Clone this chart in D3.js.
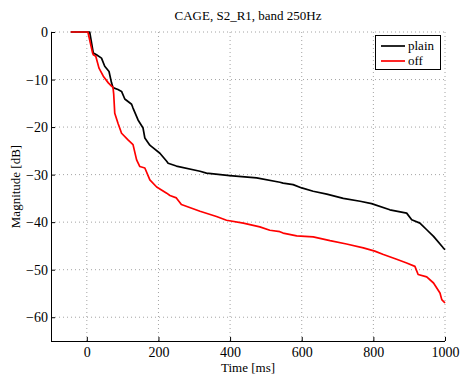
<!DOCTYPE html>
<html><head><meta charset="utf-8">
<script src="https://cdn.jsdelivr.net/npm/d3@7"></script>
<style>body{margin:0;background:#fff}text{font-family:"Liberation Serif","Times New Roman",serif;fill:#000}</style>
</head><body><svg id="c" width="460" height="378"></svg>
<script>
const title = "CAGE, S2_R1, band 250Hz";
const xTicks = [0, 200, 400, 600, 800, 1000];
const yTicks = [0, -10, -20, -30, -40, -50, -60];
const seriesNames = ["plain", "off"];
const seriesColors = ["#000000", "#ff0000"];
const plainT = [-45, 8, 18, 27, 41, 50, 62, 69, 73, 87, 97, 106, 125, 129, 143, 157, 162, 176, 181, 204, 223, 227, 250, 316, 334, 399, 474, 539, 548, 576, 600, 632, 670, 716, 763, 795, 846, 893, 907, 930, 949, 968, 995, 1000];
const plainV = [0, 0, -4.4, -4.8, -5.5, -7.2, -8.3, -10.7, -11.7, -12.1, -12.5, -14.1, -15.2, -16, -18.5, -20.2, -22.3, -23.8, -24.1, -25.5, -27.2, -27.6, -28.2, -29.3, -29.7, -30.2, -30.7, -31.6, -31.8, -32.1, -32.8, -33.5, -34.1, -35, -35.6, -36.1, -37.4, -38.1, -39.5, -40.2, -41.6, -43, -45.4, -45.8];
const offT = [-45, 3, 16, 18, 25, 34, 46, 60, 69, 73, 75, 78, 87, 97, 115, 129, 139, 148, 162, 176, 195, 223, 232, 250, 264, 316, 362, 390, 437, 483, 511, 539, 548, 586, 632, 679, 725, 772, 804, 828, 865, 893, 916, 925, 949, 968, 986, 991, 1000];
const offV = [0, 0, -4.4, -4.8, -5.1, -7.6, -9.3, -10.7, -11.4, -11.6, -13, -17.1, -19.2, -21.3, -22.7, -23.7, -26.9, -28.3, -28.6, -31.1, -32.6, -33.9, -34.4, -34.9, -36.3, -37.7, -38.8, -39.6, -40.2, -41, -41.7, -42, -42.3, -42.9, -43.1, -43.9, -44.6, -45.4, -46.1, -46.8, -47.8, -48.6, -49.3, -51, -51.5, -52.8, -54.9, -56.3, -57];

const svg = d3.select("#c");
const L = 51, R = 445, T = 32, B = 341;
const x = d3.scaleLinear().domain([-100, 1000]).range([L, R]);
const y = d3.scaleLinear().domain([-65, 0]).range([B, T]);

// grid
const g = svg.append("g");
g.selectAll(".gx").data(xTicks).enter().append("line")
  .attr("x1", d => x(d)).attr("x2", d => x(d)).attr("y1", T).attr("y2", B)
  .attr("stroke", "#8c8c8c").attr("stroke-width", 0.8).attr("stroke-dasharray", "1,3");
g.selectAll(".gy").data(yTicks).enter().append("line")
  .attr("x1", L).attr("x2", R).attr("y1", d => y(d)).attr("y2", d => y(d))
  .attr("stroke", "#8c8c8c").attr("stroke-width", 0.8).attr("stroke-dasharray", "1,3");

// axes
const fmt = d => (d < 0 ? "\u2212" + Math.abs(d) : String(d));
const xAxis = svg.append("g").attr("transform", `translate(0,${B})`)
  .call(d3.axisBottom(x).tickValues(xTicks).tickSize(-4).tickPadding(6).tickFormat(fmt));
const yAxis = svg.append("g").attr("transform", `translate(${L},0)`)
  .call(d3.axisLeft(y).tickValues(yTicks).tickSize(-4).tickPadding(3).tickFormat(fmt));
[xAxis, yAxis].forEach(a => {
  a.select(".domain").attr("stroke", "#000").attr("stroke-width", 1);
  a.selectAll(".tick line").attr("stroke", "#000");
  a.selectAll("text").attr("font-family", "Liberation Serif").attr("font-size", 14).attr("fill", "#000");
});
xAxis.select(".domain").attr("d", `M${L},0.5H${R}`);
yAxis.select(".domain").attr("d", `M0.5,${B}V${T}`);

// lines
const line = d3.line().x(d => x(d[0])).y(d => y(d[1]));
const data = [d3.zip(plainT, plainV), d3.zip(offT, offV)];
svg.selectAll(".ln").data(data).enter().append("path")
  .attr("d", line).attr("fill", "none")
  .attr("stroke", (d, i) => seriesColors[i]).attr("stroke-width", 1.7)
  .attr("stroke-linejoin", "round");

// title and labels
svg.append("text").attr("x", (L + R) / 2).attr("y", 20).attr("text-anchor", "middle")
  .attr("font-size", 13).text(title);
svg.append("text").attr("x", (L + R) / 2).attr("y", 372).attr("text-anchor", "middle")
  .attr("font-size", 13).text("Time [ms]");
svg.append("text").attr("transform", `translate(20,${(T + B) / 2}) rotate(-90)`)
  .attr("text-anchor", "middle").attr("font-size", 13).text("Magnitude [dB]");

// legend
const lg = svg.append("g");
lg.append("rect").attr("x", 375.5).attr("y", 35.5).attr("width", 65).attr("height", 34)
  .attr("fill", "#fff").attr("stroke", "#000").attr("stroke-width", 1);
seriesNames.forEach((n, i) => {
  const yy = 46 + i * 15;
  lg.append("line").attr("x1", 381).attr("x2", 405).attr("y1", yy).attr("y2", yy)
    .attr("stroke", seriesColors[i]).attr("stroke-width", 1.7);
  lg.append("text").attr("x", 408).attr("y", yy + 4).attr("font-size", 13).text(n);
});
</script></body></html>
